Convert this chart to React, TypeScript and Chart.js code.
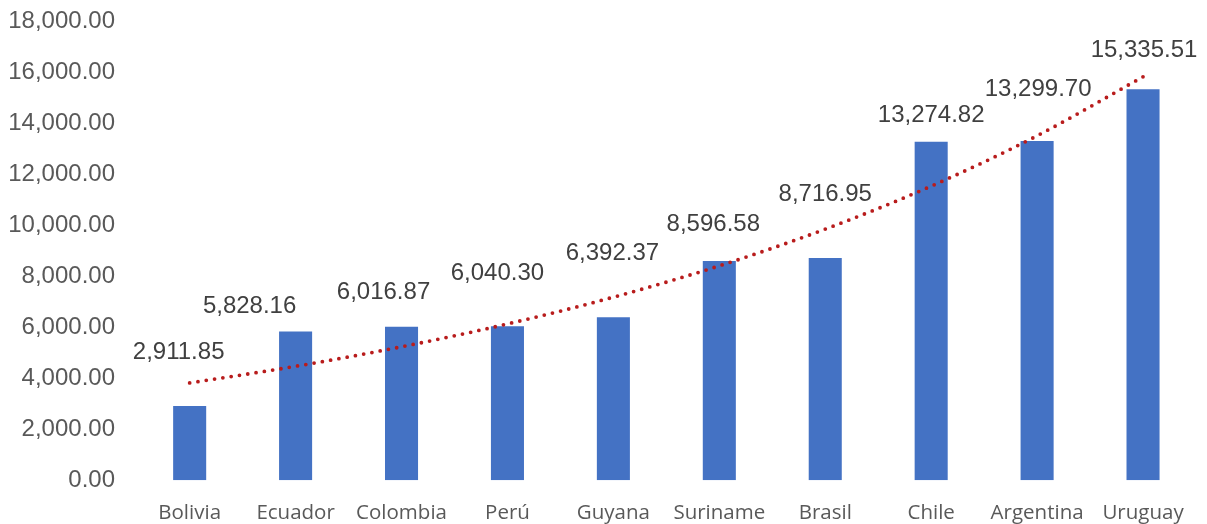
import React, { useEffect, useRef } from "react";
import { Chart, registerables } from "chart.js";

Chart.register(...registerables);

const countries = ["Bolivia", "Ecuador", "Colombia", "Perú", "Guyana", "Suriname", "Brasil", "Chile", "Argentina", "Uruguay"];
const gdpValues = [2911.85, 5828.16, 6016.87, 6040.3, 6392.37, 8596.58, 8716.95, 13274.82, 13299.7, 15335.51];
// label offsets (px) relative to each bar's top centre, as placed in the original
const labelDx = [-11, -46, -18, -10, -1, -6, 0, 0, 1, 1];
const labelDy = [-54, -25, -34, -53, -64, -37, -64, -26, -52, -39];
const yMin = 0;
const yMax = 18000;
const yStep = 2000;

// Exponential trendline (least squares on ln y), as Excel computes it
function expTrend(vals: number[]): number[] {
  const n = vals.length;
  const xs = vals.map((_, i) => i + 1);
  const ls = vals.map((v) => Math.log(v));
  const mx = xs.reduce((a, b) => a + b, 0) / n;
  const ml = ls.reduce((a, b) => a + b, 0) / n;
  let sxy = 0, sxx = 0;
  for (let i = 0; i < n; i++) {
    sxy += (xs[i] - mx) * (ls[i] - ml);
    sxx += (xs[i] - mx) * (xs[i] - mx);
  }
  const b = sxy / sxx;
  const a = ml - b * mx;
  return xs.map((x) => Math.exp(a + b * x));
}

const fmt = (v: number) =>
  v.toLocaleString("en-US", { minimumFractionDigits: 2, maximumFractionDigits: 2 });

const labelPlugin = {
  id: "barLabels",
  afterDatasetsDraw(chart: any) {
    const meta = chart.getDatasetMeta(1);
    const ctx = chart.ctx;
    ctx.save();
    ctx.font = '24px "Liberation Sans", Arial, sans-serif';
    ctx.fillStyle = "#404040";
    ctx.textAlign = "center";
    ctx.textBaseline = "middle";
    meta.data.forEach((el: any, i: number) => {
      ctx.fillText(fmt(gdpValues[i]), el.x + labelDx[i], el.y + labelDy[i]);
    });
    ctx.restore();
  },
};

export default function App() {
  const ref = useRef<HTMLCanvasElement>(null);
  useEffect(() => {
    if (!ref.current) return;
    const chart = new Chart(ref.current, {
      type: "bar",
      data: {
        labels: countries,
        datasets: [
          {
            type: "line",
            label: "Trend",
            data: expTrend(gdpValues),
            borderColor: "#B81C1C",
            borderWidth: 3.8,
            borderDash: [0, 8.4],
            borderCapStyle: "round",
            pointRadius: 0,
            cubicInterpolationMode: "monotone",
            fill: false,
            order: 0,
          } as any,
          {
            type: "bar",
            label: "Values",
            data: gdpValues,
            backgroundColor: "#4472C4",
            barPercentage: 0.312,
            categoryPercentage: 1,
            order: 1,
          },
        ],
      },
      options: {
        animation: false,
        responsive: true,
        maintainAspectRatio: false,
        layout: { padding: { top: 21.2, right: 11, bottom: 0, left: 0 } },
        plugins: { legend: { display: false }, tooltip: { enabled: false } },
        scales: {
          x: {
            grid: { display: false, drawTicks: false, tickLength: 0 },
            border: { display: false },
            ticks: {
              padding: 21,
              color: "#595959",
              font: { family: '"Open Sans", sans-serif', size: 20.5 },
              maxRotation: 0,
              autoSkip: false,
            },
            afterFit(scale: any) {
              scale.height = Math.max(scale.chart.height - 480.2, 10);
            },
          },
          y: {
            min: yMin,
            max: yMax,
            grid: { display: false, drawTicks: false, tickLength: 0 },
            border: { display: false },
            ticks: {
              stepSize: yStep,
              padding: 21.7,
              color: "#595959",
              font: { family: '"Liberation Sans", Arial, sans-serif', size: 24 },
              callback: (v: any) => fmt(Number(v)),
            },
            afterFit(scale: any) {
              scale.width = 136.7;
              scale.paddingTop = 0;
              scale.paddingBottom = 0;
            },
          },
        },
      },
      plugins: [labelPlugin],
    });
    return () => chart.destroy();
  }, []);
  return (
    <div style={{ position: "fixed", top: 0, left: 0, right: 0, bottom: 0, background: "#fff" }}>
      <canvas ref={ref} style={{ display: "block" }} />
    </div>
  );
}
